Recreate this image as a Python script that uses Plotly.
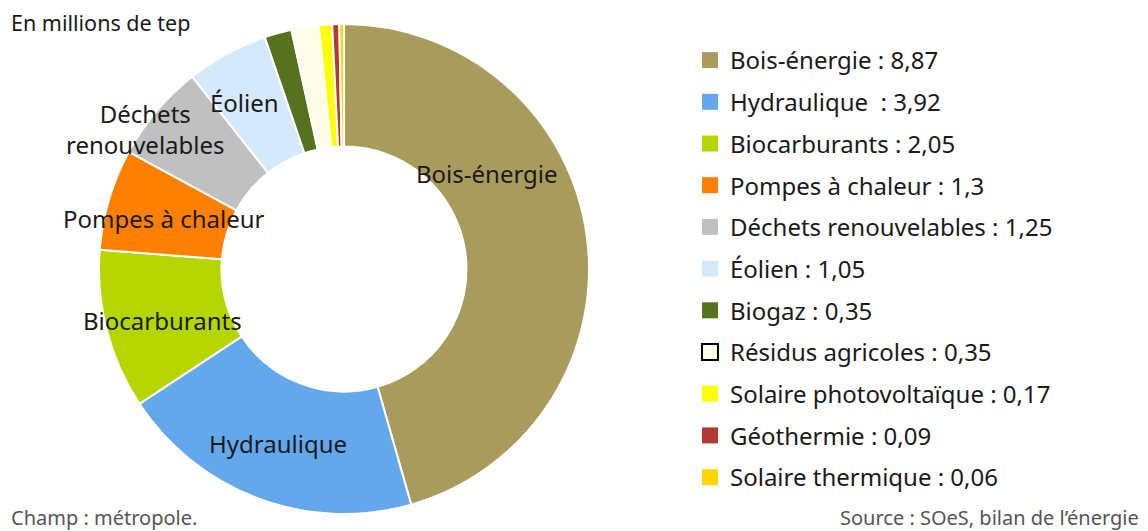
import plotly.graph_objects as go

categories = ["Bois-énergie", "Hydraulique", "Biocarburants", "Pompes à chaleur",
              "Déchets renouvelables", "Éolien", "Biogaz", "Résidus agricoles",
              "Solaire photovoltaïque", "Géothermie", "Solaire thermique"]
values = [8.87, 3.92, 2.05, 1.3, 1.25, 1.05, 0.35, 0.35, 0.17, 0.09, 0.06]
colors = ["#A99B5C", "#62A8EA", "#B5D600", "#FF8000", "#C0C0C0", "#D4E9FB",
          "#56721E", "#FFFDE6", "#FFFF00", "#B23A33", "#FFD700"]
legend_names = ["Bois-énergie", "Hydraulique\u00a0", "Biocarburants", "Pompes à chaleur",
                "Déchets renouvelables", "Éolien", "Biogaz", "Résidus agricoles",
                "Solaire photovoltaïque", "Géothermie", "Solaire thermique"]

# page body has an 8px margin: size the figure to fit the window
OFF = 8
W, H = 1148 - OFF, 531 - OFF
FONT = "Noto Sans"
TXT = "#1a1a1a"


def px(x):
    return (x - OFF) / W


def py(y):
    return 1 - (y - OFF) / H


CX, CY, R = 344, 269, 245

fig = go.Figure()
fig.add_trace(go.Pie(
    labels=categories, values=values, sort=False, direction="clockwise", rotation=0,
    hole=0.5, marker=dict(colors=colors, line=dict(color="white", width=2)),
    textinfo="none", showlegend=False, hoverinfo="label+value",
    domain=dict(x=[px(CX - R), px(CX + R)], y=[py(CY + R), py(CY - R)]),
))

for i, (n, v, c) in enumerate(zip(legend_names, values, colors)):
    line = dict(color="black", width=2) if categories[i] == "Résidus agricoles" else dict(width=0)
    fig.add_trace(go.Scatter(
        x=[None], y=[None], mode="markers", name=f"{n} : {str(v).replace('.', ',')}",
        marker=dict(symbol="square", size=16, color=c, line=line),
        legendgroup=f"g{i}", showlegend=True,
    ))

slice_labels = [("Bois-énergie", 487, 173), ("Hydraulique", 278, 443),
                ("Biocarburants", 162, 320), ("Pompes à chaleur", 164, 219),
                ("Déchets<br>renouvelables", 145, 129), ("Éolien", 244, 103)]
annotations = []
for t, x, y in slice_labels:
    annotations.append(dict(text=t, x=px(x), y=py(y), xref="paper", yref="paper",
                            showarrow=False, font=dict(family=FONT, size=24, color=TXT),
                            xanchor="center", yanchor="middle"))
annotations += [
    dict(text="En millions de tep", x=px(9), y=py(23), xref="paper", yref="paper",
         showarrow=False, xanchor="left", yanchor="middle",
         font=dict(family=FONT, size=21.5, color=TXT)),
    dict(text="Champ : métropole.", x=px(9), y=py(517), xref="paper", yref="paper",
         showarrow=False, xanchor="left", yanchor="middle",
         font=dict(family=FONT, size=20, color="#555555")),
    dict(text="Source : SOeS, bilan de l’énergie", x=px(1141), y=py(517),
         xref="paper", yref="paper", showarrow=False, xanchor="right", yanchor="middle",
         font=dict(family=FONT, size=20, color="#555555")),
]

fig.update_layout(
    width=W, height=H, margin=dict(l=0, r=0, t=0, b=0),
    paper_bgcolor="white", plot_bgcolor="white",
    xaxis=dict(visible=False), yaxis=dict(visible=False),
    showlegend=True,
    legend=dict(x=px(690), y=py(38), xanchor="left", yanchor="top",
                font=dict(family=FONT, size=24, color=TXT), tracegroupgap=7.5,
                bgcolor="rgba(0,0,0,0)", itemclick=False, itemdoubleclick=False),
    annotations=annotations,
)
fig.write_html("out.html")
